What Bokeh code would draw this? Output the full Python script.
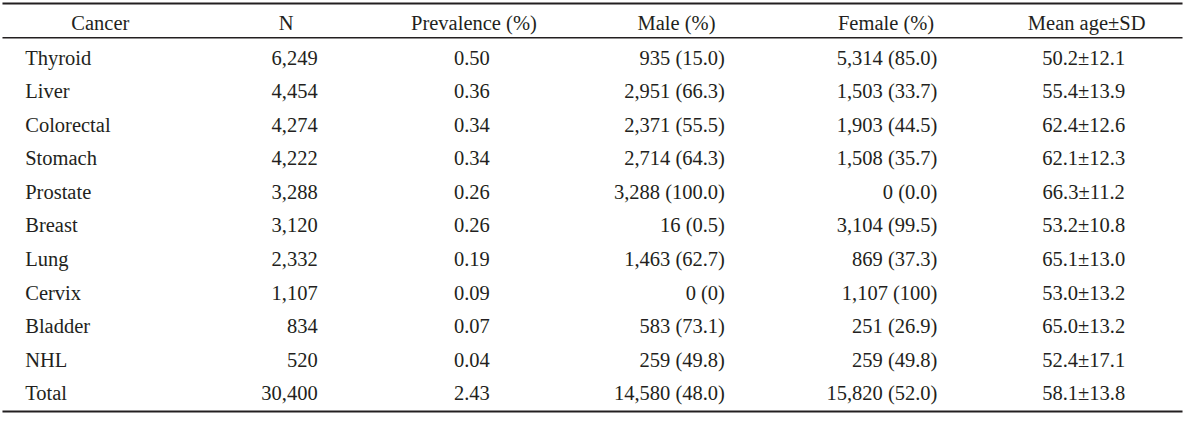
from bokeh.plotting import figure
from bokeh.models import Range1d, ColumnDataSource
from bokeh.core.properties import value
from bokeh.embed import file_html
from bokeh.resources import INLINE

# ---- table data ----
headers = ["Cancer", "N", "Prevalence (%)", "Male (%)", "Female (%)", "Mean age\u00b1SD"]
cancer = ["Thyroid", "Liver", "Colorectal", "Stomach", "Prostate", "Breast",
          "Lung", "Cervix", "Bladder", "NHL", "Total"]
n_cases = ["6,249", "4,454", "4,274", "4,222", "3,288", "3,120",
           "2,332", "1,107", "834", "520", "30,400"]
prevalence = ["0.50", "0.36", "0.34", "0.34", "0.26", "0.26",
              "0.19", "0.09", "0.07", "0.04", "2.43"]
male = ["935 (15.0)", "2,951 (66.3)", "2,371 (55.5)", "2,714 (64.3)", "3,288 (100.0)",
        "16 (0.5)", "1,463 (62.7)", "0 (0)", "583 (73.1)", "259 (49.8)", "14,580 (48.0)"]
female = ["5,314 (85.0)", "1,503 (33.7)", "1,903 (44.5)", "1,508 (35.7)", "0 (0.0)",
          "3,104 (99.5)", "869 (37.3)", "1,107 (100)", "251 (26.9)", "259 (49.8)",
          "15,820 (52.0)"]
mean_age = ["50.2\u00b112.1", "55.4\u00b113.9", "62.4\u00b112.6", "62.1\u00b112.3",
            "66.3\u00b111.2", "53.2\u00b110.8", "65.1\u00b113.0", "53.0\u00b113.2",
            "65.0\u00b113.2", "52.4\u00b117.1", "58.1\u00b113.8"]

# ---- layout (pixel-like coordinates of the table) ----
FONT = value("Liberation Serif")
SIZE = "20.5px"
COLOR = "#231f20"
X0, X1 = 3, 1197
HEADER_Y = 24
ROW_Y0, ROW_DY = 60, 34.7
header_x = [102, 290, 480, 685, 897, 1100]
col_specs = [  # (values, x, align)
    (cancer, 26, "left"),
    (n_cases, 322, "right"),
    (prevalence, 478, "center"),
    (male, 734, "right"),
    (female, 949, "right"),
    (mean_age, 1097, "center"),
]

p = figure(width=1184, height=414, output_backend="svg", toolbar_location=None,
           x_range=Range1d(1, 1199), y_range=Range1d(429, 1), min_border=0)
p.axis.visible = False
p.grid.visible = False
p.outline_line_color = None
p.background_fill_color = "white"

# rules
p.segment(x0=[X0], y0=[4], x1=[X1], y1=[4], line_color=COLOR, line_width=2)
p.segment(x0=[X0], y0=[39.5], x1=[X1], y1=[39.5], line_color=COLOR, line_width=1.5)
p.segment(x0=[X0], y0=[426], x1=[X1], y1=[426], line_color=COLOR, line_width=2)

# headers
p.text(x=header_x, y=[HEADER_Y] * len(headers), text=headers, text_font=FONT,
       text_font_size=SIZE, text_color=COLOR, text_align="center", text_baseline="middle")

# body
row_y = [ROW_Y0 + ROW_DY * i for i in range(len(cancer))]
for vals, x, align in col_specs:
    src = ColumnDataSource(dict(x=[x] * len(vals), y=row_y, t=vals))
    p.text(x="x", y="y", text="t", source=src, text_font=FONT, text_font_size=SIZE,
           text_color=COLOR, text_align=align, text_baseline="middle")

open("out.html", "w").write(file_html(p, INLINE))
